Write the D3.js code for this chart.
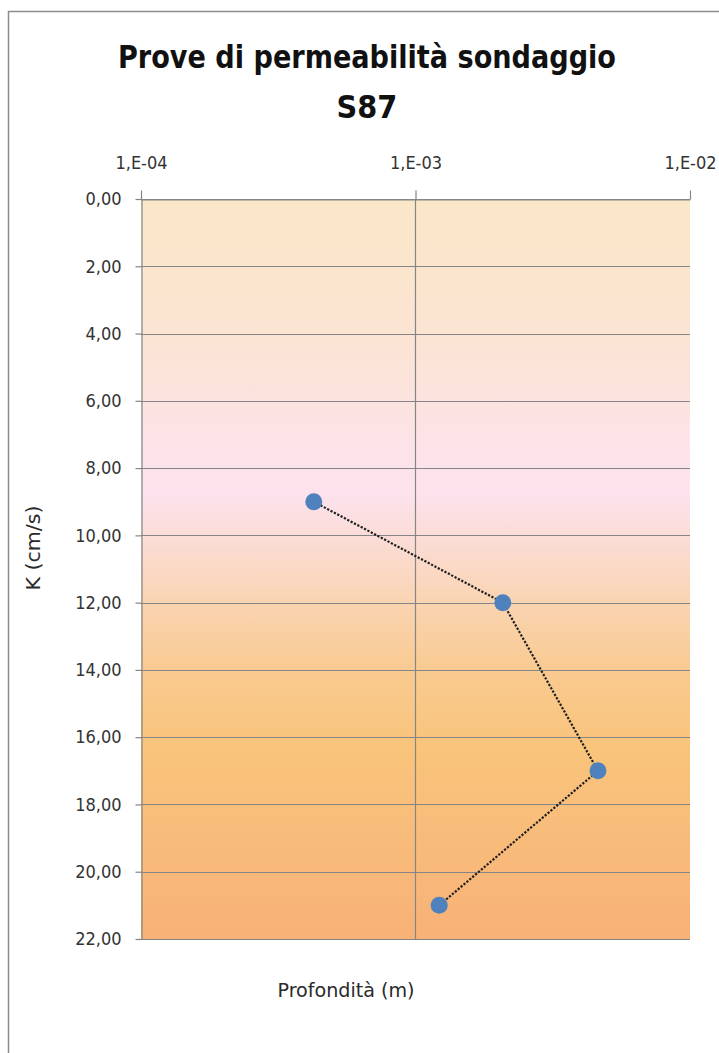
<!DOCTYPE html>
<html><head><meta charset="utf-8">
<script src="https://cdn.jsdelivr.net/npm/d3@7"></script>
<style>html,body{margin:0;padding:0;background:#fff;}svg{display:block;}</style>
</head><body>
<script>
// Data
const depths = [9, 12, 17, 21];                 // Profondità (m)
const kValues = [4.26e-4, 2.08e-3, 4.62e-3, 1.22e-3]; // K (cm/s)
const xTicks = [1e-4, 1e-3, 1e-2];
const xTickLabels = ["1,E-04", "1,E-03", "1,E-02"];
const yTicks = [0, 2, 4, 6, 8, 10, 12, 14, 16, 18, 20, 22];
const titleLines = ["Prove di permeabilità sondaggio", "S87"];

const W = 719, H = 1053;
const font = "'DejaVu Sans Condensed','Liberation Sans Narrow','Arial Narrow',sans-serif";
const svg = d3.select("body").append("svg").attr("width", W).attr("height", H);

const plot = {left: 141, right: 690, top: 199, bottom: 939};
const x = d3.scaleLog().domain([1e-4, 1e-2]).range([plot.left, plot.right]);
const y = d3.scaleLinear().domain([0, 22]).range([plot.top, plot.bottom]);

// outer frame
svg.append("path").attr("d", `M8.5,${H} V11.5 H${W}`).attr("fill", "none")
  .attr("stroke", "#8c8c8c").attr("stroke-width", 1.5);

// background gradient
const defs = svg.append("defs");
const grad = defs.append("linearGradient").attr("id", "bg").attr("x1", 0).attr("y1", 0).attr("x2", 0).attr("y2", 1);
[[0, "#FAE7C8"], [0.18, "#FBE4D2"], [0.34, "#FCE3E9"], [0.40, "#FCE2EC"], [0.46, "#FBDCD6"], [0.54, "#FAD5B4"], [0.64, "#F9CA90"], [0.74, "#F9C47B"], [0.86, "#F8BC7A"], [1, "#F8B177"]]
  .forEach(([o, c]) => grad.append("stop").attr("offset", o).attr("stop-color", c));
svg.append("rect").attr("x", plot.left).attr("y", plot.top)
  .attr("width", plot.right - plot.left).attr("height", plot.bottom - plot.top)
  .attr("fill", "url(#bg)");

// gridlines
svg.append("g").selectAll("line").data(yTicks).join("line")
  .attr("x1", plot.left).attr("x2", plot.right)
  .attr("y1", d => Math.round(y(d)) + 0.5).attr("y2", d => Math.round(y(d)) + 0.5)
  .attr("stroke", "#858585").attr("stroke-width", 1.2);
svg.append("g").selectAll("line").data([1e-3]).join("line")
  .attr("x1", d => Math.round(x(d)) + 0.5).attr("x2", d => Math.round(x(d)) + 0.5)
  .attr("y1", plot.top).attr("y2", plot.bottom)
  .attr("stroke", "#858585").attr("stroke-width", 1.2);

// axes
const xAxis = d3.axisTop(x).tickValues(xTicks).tickFormat((d, i) => xTickLabels[i]).tickSizeInner(9).tickSizeOuter(0).tickPadding(22);
const gx = svg.append("g").attr("transform", `translate(0,${plot.top + 0.5})`).call(xAxis);
const yAxis = d3.axisLeft(y).tickValues(yTicks).tickFormat(d => d3.format(".2f")(d).replace(".", ",")).tickSizeInner(6).tickSizeOuter(0).tickPadding(14);
const gy = svg.append("g").attr("transform", `translate(${plot.left + 0.5},0)`).call(yAxis);
[gx, gy].forEach(g => {
  g.select(".domain").attr("stroke", "#858585").attr("stroke-width", 1.2);
  g.selectAll(".tick line").attr("stroke", "#858585").attr("stroke-width", 1.2);
  g.selectAll(".tick text").attr("fill", "#333").style("font-family", font).style("font-size", "18px");
});

// line
const line = d3.line().x((d, i) => x(kValues[i])).y(d => y(d));
svg.append("path").datum(depths).attr("d", line).attr("fill", "none")
  .attr("stroke", "#1e1e1e").attr("stroke-width", 2.2).attr("stroke-dasharray", "2.2,1.6");

// markers
svg.append("g").selectAll("circle").data(depths).join("circle")
  .attr("cx", (d, i) => x(kValues[i])).attr("cy", d => y(d)).attr("r", 8.5)
  .attr("fill", "#4F81BD");

// title
svg.append("text").attr("x", 367).attr("y", 68).attr("text-anchor", "middle")
  .attr("textLength", 498).attr("lengthAdjust", "spacingAndGlyphs")
  .style("font-family", font).style("font-weight", "bold").style("font-size", "32px").attr("fill", "#111")
  .text(titleLines[0]);
svg.append("text").attr("x", 367).attr("y", 118).attr("text-anchor", "middle")
  .style("font-family", font).style("font-weight", "bold").style("font-size", "32px").attr("fill", "#111")
  .text(titleLines[1]);

// axis titles
svg.append("text").attr("transform", "translate(40,548) rotate(-90)").attr("text-anchor", "middle")
  .attr("textLength", 85).attr("lengthAdjust", "spacingAndGlyphs")
  .style("font-family", font).style("font-size", "19px").attr("fill", "#2a2a2a").text("K (cm/s)");
svg.append("text").attr("x", 346).attr("y", 997).attr("text-anchor", "middle")
  .attr("textLength", 137).attr("lengthAdjust", "spacingAndGlyphs")
  .style("font-family", font).style("font-size", "19px").attr("fill", "#2a2a2a").text("Profondità (m)");
</script>
</body></html>
